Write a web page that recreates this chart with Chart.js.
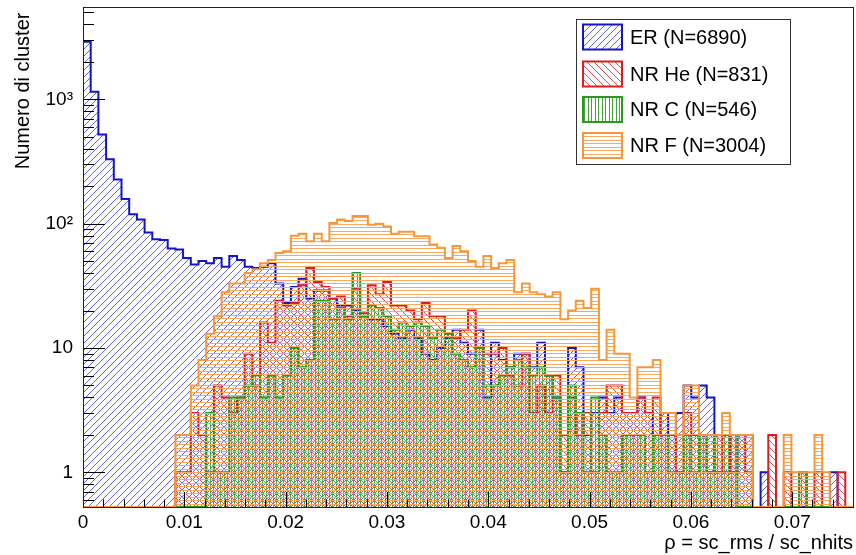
<!DOCTYPE html>
<html><head><meta charset="utf-8">
<script src="https://cdn.jsdelivr.net/npm/chart.js@4.4.1/dist/chart.umd.min.js"></script>
<style>html,body{margin:0;padding:0;background:#fff;} #wrap{width:856px;height:555px;position:relative;}</style>
</head><body><div id="wrap"><canvas id="c" width="856" height="555"></canvas></div>
<script>
// ---- data ----
const BIN_WIDTH = 0.00076;
const X_MAX = 0.076;
const Y_MIN = 0.526, Y_MAX = 5525;
const xTickValues = [0, 0.01, 0.02, 0.03, 0.04, 0.05, 0.06, 0.07];
const xTickLabels = ['0', '0.01', '0.02', '0.03', '0.04', '0.05', '0.06', '0.07'];
const yTickValues = [1, 10, 100, 1000];
const yTickLabels = ['1', '10', '10²', '10³'];
const seriesNames = ['ER (N=6890)', 'NR He (N=831)', 'NR C (N=546)', 'NR F (N=3004)'];
const xTitle = 'ρ = sc_rms / sc_nhits';
const yTitle = 'Numero di cluster';

const erCounts = [
  2900, 1150, 520, 330, 226, 158, 119, 108, 85, 75,
  74, 63, 62, 53, 47, 50, 48, 53, 45, 55,
  51, 45, 44, 45, 48, 33, 23, 31, 36, 25,
  29, 29, 25, 22, 22, 20, 18, 17, 17, 15,
  13, 12, 14, 12, 9, 8, 10, 12, 14, 11,
  9, 14, 4, 11, 8, 7, 9, 9, 7, 11,
  6, 4, 1, 10, 7, 2, 3, 4, 3, 4,
  3, 3, 4, 3, 2, 3, 2, 3, 5, 4,
  5, 4, 1, 2, 1, 2, 2, 0, 1, 0,
  0, 0, 0, 0, 0, 0, 0, 1, 0, 0
];
const heCounts = [
  0, 0, 0, 0, 0, 0, 0, 0, 0, 0,
  0, 0, 1, 1, 3, 2, 1, 5, 4, 3,
  4, 9, 5, 16, 11, 24, 22, 23, 32, 44,
  34, 31, 25, 26, 18, 30, 19, 32, 27, 34,
  22, 22, 20, 17, 23, 18, 18, 13, 12, 14,
  20, 10, 9, 9, 10, 6, 5, 9, 3, 5,
  3, 6, 2, 4, 2, 3, 1, 3, 5, 5,
  3, 3, 4, 3, 4, 2, 2, 1, 3, 2,
  2, 1, 2, 1, 2, 2, 1, 0, 0, 2,
  0, 1, 0, 1, 0, 1, 0, 0, 1, 0
];
const cCounts = [
  0, 0, 0, 0, 0, 0, 0, 0, 0, 0,
  0, 0, 0, 0, 0, 0, 3, 1, 1, 4,
  4, 5, 6, 4, 6, 4, 6, 10, 7, 8,
  24, 24, 17, 21, 17, 40, 18, 22, 21, 18,
  14, 16, 15, 16, 15, 12, 14, 13, 9, 8,
  7, 10, 5, 5, 6, 7, 8, 7, 6, 7,
  6, 4, 1, 5, 3, 1, 4, 2, 1, 1,
  2, 2, 2, 1, 2, 2, 1, 1, 2, 1,
  2, 1, 2, 2, 2, 0, 0, 0, 0, 0,
  0, 0, 0, 1, 0, 0, 0, 0, 0, 0
];
const fCounts = [
  0, 0, 0, 0, 0, 0, 0, 0, 0, 0,
  0, 0, 2, 2, 5, 8, 13, 18, 28, 33,
  33, 40, 43, 48, 51, 58, 60, 80, 83, 72,
  83, 72, 101, 108, 105, 115, 115, 98, 100, 95,
  83, 86, 86, 79, 79, 68, 64, 53, 66, 60,
  50, 45, 55, 44, 48, 51, 28, 33, 28, 27,
  26, 28, 17, 20, 24, 21, 30, 8, 14, 9,
  9, 4, 7, 7, 8, 3, 3, 2, 5, 5,
  2, 2, 2, 3, 2, 2, 2, 0, 0, 0,
  0, 2, 1, 1, 1, 2, 1, 0, 0, 0
];

// ---- styles ----
const FONT = "'Liberation Sans', Arial, Helvetica, sans-serif";
const lineColors = ['#1414c8', '#dc1e1e', '#2a9a1c', '#f6973c'];
const hatchRGBA = [[100, 100, 225, 255], [228, 80, 80, 255], [70, 165, 55, 255], [248, 168, 95, 255]];
const hatchKinds = ['fwd', 'back', 'vert', 'horiz'];

// pixel-exact hatch tiles
function makePattern(kind, rgba) {
  const s = 7;
  const c = document.createElement('canvas');
  c.width = s; c.height = s;
  const g = c.getContext('2d');
  const img = g.createImageData(s, s);
  const set = (px, py) => {
    const k = (py * s + px) * 4;
    img.data[k] = rgba[0]; img.data[k + 1] = rgba[1]; img.data[k + 2] = rgba[2]; img.data[k + 3] = rgba[3];
  };
  for (let i = 0; i < s; i++) {
    if (kind === 'fwd') set(i, s - 1 - i);
    else if (kind === 'back') set(i, i);
    else if (kind === 'vert') { set(0, i); set(3, i); }
    else { set(i, 0); set(i, 3); }
  }
  g.putImageData(img, 0, 0);
  return g.createPattern(c, 'repeat');
}
const patterns = hatchKinds.map((k, i) => makePattern(k, hatchRGBA[i]));

function buildPoints(counts) {
  const pts = counts.map((c, i) => ({ x: i * BIN_WIDTH, y: c > 0 ? c : Y_MIN }));
  pts.push({ x: counts.length * BIN_WIDTH, y: Y_MIN });
  return pts;
}
const allCounts = [erCounts, heCounts, cCounts, fCounts];
const datasets = allCounts.map((cnt, i) => ({
  label: seriesNames[i],
  data: buildPoints(cnt),
  borderColor: lineColors[i],
  backgroundColor: patterns[i],
  borderWidth: 2,
  fill: 'start',
  stepped: true,
  pointRadius: 0,
  order: 3 - i
}));

// ---- plugins ----
const framePlugin = {
  id: 'frameTicks',
  afterDatasetsDraw(chart) {
    const { ctx, chartArea: a, scales: { x, y } } = chart;
    ctx.save();
    ctx.strokeStyle = '#000';
    ctx.lineWidth = 1;
    ctx.beginPath();
    for (let e = -1; e <= 3; e++) {
      for (let m = 1; m <= 9; m++) {
        const v = m * Math.pow(10, e);
        if (v < Y_MIN || v > Y_MAX) continue;
        const py = Math.round(y.getPixelForValue(v)) + 0.5;
        const len = m === 1 ? 22 : 11;
        ctx.moveTo(a.left, py); ctx.lineTo(a.left + len, py);
      }
    }
    for (let k = 0; k * 0.002 <= X_MAX + 1e-9; k++) {
      const px = Math.round(x.getPixelForValue(k * 0.002)) + 0.5;
      const len = k % 5 === 0 ? 15 : 7.5;
      ctx.moveTo(px, a.bottom); ctx.lineTo(px, a.bottom - len);
    }
    ctx.stroke();
    ctx.strokeStyle = '#222';
    ctx.strokeRect(Math.round(a.left) + 0.5, Math.round(a.top) + 0.5, Math.round(a.right - a.left), Math.round(a.bottom - a.top));
    ctx.restore();
  }
};

const legendPlugin = {
  id: 'rootLegend',
  afterDraw(chart) {
    const { ctx } = chart;
    ctx.save();
    ctx.fillStyle = '#fff';
    ctx.fillRect(576, 19, 214, 145);
    ctx.strokeStyle = '#333';
    ctx.lineWidth = 1;
    ctx.strokeRect(576.5, 19.5, 214, 145);
    const centers = [37, 74, 109.5, 145.5];
    ctx.font = '20px ' + FONT;
    ctx.textBaseline = 'middle';
    ctx.textAlign = 'left';
    seriesNames.forEach((name, i) => {
      const cy = centers[i];
      ctx.fillStyle = patterns[i];
      ctx.fillRect(583, cy - 12.5, 39, 25);
      ctx.strokeStyle = lineColors[i];
      ctx.lineWidth = 2;
      ctx.strokeRect(583, cy - 12.5, 39, 25);
      ctx.fillStyle = '#000';
      ctx.fillText(name, 630, cy + 1);
    });
    ctx.restore();
  }
};

Chart.defaults.font.family = FONT;
Chart.defaults.color = '#000';

function zeroPad(s) { s.paddingTop = 0; s.paddingBottom = 0; s.paddingLeft = 0; s.paddingRight = 0; }

new Chart(document.getElementById('c'), {
  type: 'line',
  data: { datasets },
  options: {
    responsive: false,
    animation: false,
    devicePixelRatio: 1,
    events: [],
    layout: { padding: { top: 7, right: 3, left: 0, bottom: 0 } },
    plugins: { legend: { display: false }, tooltip: { enabled: false } },
    scales: {
      x: {
        type: 'linear', min: 0, max: X_MAX,
        afterBuildTicks: s => { s.ticks = xTickValues.map(v => ({ value: v })); },
        afterFit: s => { s.height = 48; zeroPad(s); },
        ticks: {
          callback: v => xTickLabels[xTickValues.indexOf(v)],
          font: { size: 19 }, color: '#000', padding: 4, maxRotation: 0, autoSkip: false
        },
        grid: { display: false, drawTicks: false },
        border: { display: false },
        title: { display: true, text: xTitle, align: 'end', font: { size: 20 }, color: '#000', padding: { top: 0, bottom: 0 } }
      },
      y: {
        type: 'logarithmic', min: Y_MIN, max: Y_MAX,
        afterBuildTicks: s => { s.ticks = yTickValues.map(v => ({ value: v })); },
        afterFit: s => { s.width = 83; zeroPad(s); },
        ticks: {
          callback: v => yTickLabels[yTickValues.indexOf(v)],
          font: { size: 19 }, color: '#000', padding: 10, autoSkip: false
        },
        grid: { display: false, drawTicks: false },
        border: { display: false },
        title: { display: true, text: yTitle + ' ', align: 'end', font: { size: 20 }, color: '#000', padding: { top: 11, bottom: 0 } }
      }
    }
  },
  plugins: [framePlugin, legendPlugin]
});
</script>
</body></html>
